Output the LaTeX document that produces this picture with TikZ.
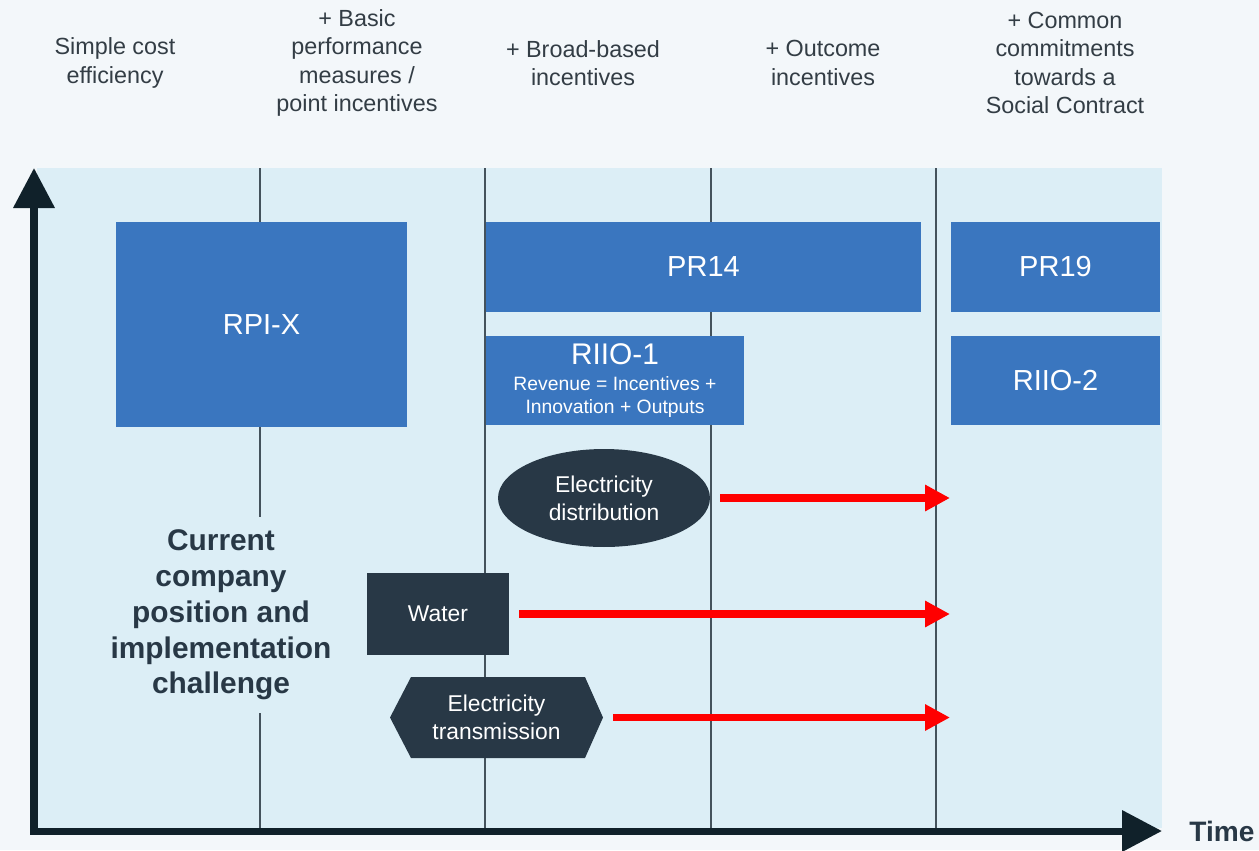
\documentclass[tikz,border=0pt]{standalone}
\usepackage{fontspec}
\setmainfont{Liberation Sans}
\usetikzlibrary{shapes.geometric,arrows.meta}

\definecolor{pagebg}{HTML}{F3F7FA}
\definecolor{panel}{HTML}{DCEEF6}
\definecolor{boxblue}{HTML}{3A76BF}
\definecolor{darkbox}{HTML}{283846}
\definecolor{axisdark}{HTML}{10212A}
\definecolor{gridgrey}{HTML}{44525C}
\definecolor{labelgrey}{HTML}{333D45}

\tikzset{
  bluebox/.style={rectangle,fill=boxblue,text=white,inner sep=0pt,
    font=\fontsize{16.5}{20}\selectfont},
  darknode/.style={fill=darkbox,text=white,inner sep=0pt,align=center,
    font=\fontsize{13}{16}\selectfont},
  toplabel/.style={align=center,text=labelgrey,font=\fontsize{13.3}{16.2}\selectfont},
  redarrow/.style={draw=red,line width=4.5pt,shorten <=0.2cm,
    -{Triangle[length=0.5cm,width=0.5cm]}},
  axisline/.style={draw=axisdark,line width=4pt,line join=miter,
    {Triangle[length=0.8cm,width=0.8cm]}-{Triangle[length=0.8cm,width=0.8cm]}}
}

\begin{document}
\begin{tikzpicture}[x=0.02cm,y=-0.02cm]

       \fill[pagebg] (0,0) rectangle (1259,850);
       \useasboundingbox (0,0) rectangle (1259,850);
       \fill[panel] (37,168) rectangle (1162,828);

       %时间分隔线
       \foreach \x in {260,485,711,936}  {
       	\draw[gridgrey,line width=0.6pt] (\x,168) -- (\x,828);
       }

       \node[toplabel] (lab1) at (115,63) {Simple cost\\efficiency};
       \node[toplabel] (lab2) at (357,63) {+ Basic\\performance\\measures /\\point incentives};
       \node[toplabel] (lab3) at (583,63) {+ Broad-based\\incentives};
       \node[toplabel] (lab4) at (823,63) {+ Outcome\\incentives};
       \node[toplabel] (lab5) at (1065,63) {+ Common\\commitments\\towards a\\Social Contract};

       \node[bluebox,minimum width=5.82cm,minimum height=4.10cm] (rpix) at (261.5,324.5) {RPI-X};
       \node[bluebox,minimum width=8.70cm,minimum height=1.80cm] (pr14) at (703.5,267) {PR14};
       \node[bluebox,minimum width=4.18cm,minimum height=1.80cm] (pr19) at (1055.5,267) {PR19};
       \node[bluebox,minimum width=5.16cm,minimum height=1.78cm,align=center,
             font=\fontsize{11}{13}\selectfont] (riio1) at (615,380.5)
             {{\fontsize{17}{20}\selectfont RIIO-1}\\[1.8pt]Revenue = Incentives +\\Innovation + Outputs};
       \node[bluebox,minimum width=4.18cm,minimum height=1.78cm] (riio2) at (1055.5,380.5) {RIIO-2};

       \node[darknode,ellipse,minimum width=4.24cm,minimum height=1.96cm] (edist) at (604,498)
             {Electricity\\distribution};
       \node[darknode,rectangle,minimum width=2.84cm,minimum height=1.64cm] (water) at (438,614) {Water};
       \fill[darkbox] (390,717.5) -- (411,677) -- (585,677) -- (603,717.5) -- (585,758) -- (411,758) -- cycle;
       \node[darknode,fill=none,minimum width=4.26cm,minimum height=1.62cm] (etrans) at (496.5,717.5)
             {Electricity\\transmission};

       \node[align=center,fill=panel,text=darkbox,inner xsep=2pt,inner ysep=7pt,
             font=\bfseries\fontsize{17}{20.4}\selectfont] (challenge) at (221,615)
             {Current\\company\\position and\\implementation\\challenge};

       \coordinate (edist-end) at (950,498);
       \coordinate (water-end) at (950,614);
       \coordinate (etrans-end) at (950,717.5);
       \draw[redarrow] (edist) -- (edist-end);
       \draw[redarrow] (water) -- (water-end);
       \draw[redarrow] (etrans) -- (etrans-end);

       %坐标轴
       \coordinate (ytop) at (34,168);
       \coordinate (origin) at (34,831);
       \coordinate (xend) at (1162,831);
       \draw[axisline] (ytop) -- (origin) -- (xend);
       \node[text=darkbox,font=\bfseries\fontsize{16}{19}\selectfont] (time) at (1222,831) {Time};

\end{tikzpicture}
\end{document}
